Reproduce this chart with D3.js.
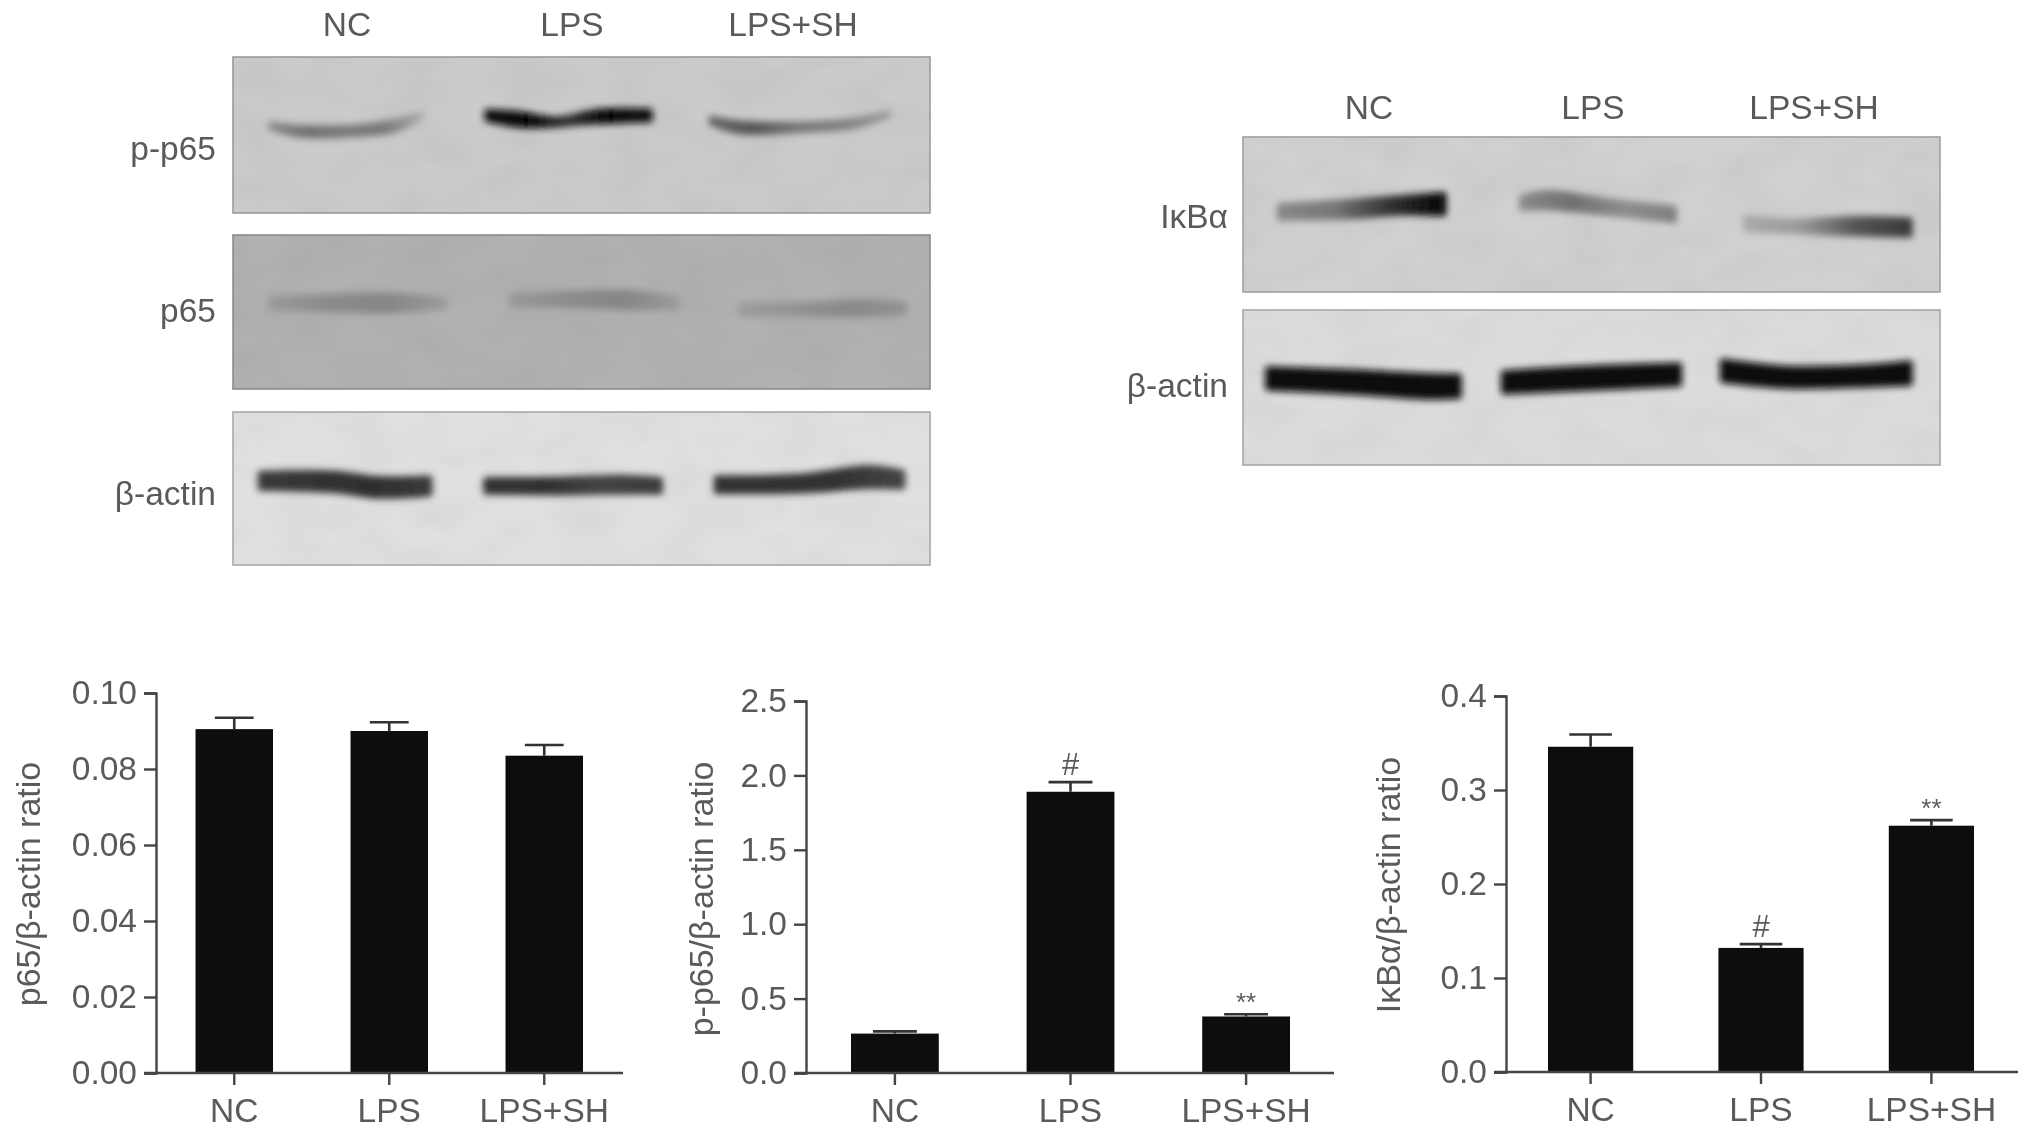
<!DOCTYPE html>
<html><head><meta charset="utf-8">
<style>html,body{margin:0;padding:0;background:#fff}svg{display:block}
text{font-family:"Liberation Sans",Arial,sans-serif;fill:#5a5a5a}</style>
<script src="https://cdnjs.cloudflare.com/ajax/libs/d3/7.8.5/d3.min.js"></script>
</head><body>
<script>
// ---- chart data ----
const categories = ["NC","LPS","LPS+SH"];
const p65Values = [0.0905,0.0900,0.0835];
const p65Upper = [0.0935,0.0923,0.0863];
const p65Ticks = [0,0.02,0.04,0.06,0.08,0.10];
const pp65Values = [0.265,1.89,0.38];
const pp65Upper = [0.28,1.955,0.395];
const pp65Ticks = [0,0.5,1,1.5,2,2.5];
const ikbValues = [0.346,0.132,0.262];
const ikbUpper = [0.359,0.136,0.268];
const ikbTicks = [0,0.1,0.2,0.3,0.4];
const pp65Marks = ["","#","**"];
const ikbMarks = ["","#","**"];
const noMarks = ["","",""];
// ---- blot band traces: [lane position, height in blot, thickness] and tones left to right ----
const bandsPP65 = [
 {t:[[29,53,3],[50,57,6],[90,57,6],[125,53,7],[146,45,2]],c:["#8a8a8a","#707070","#7a7a7a","#787878","#aaa"]},
 {t:[[196,45,6],[220,48,9],[250,50,5],[280,46,8],[322,45,7]],c:["#111","#050505","#333","#050505","#111"]},
 {t:[[369,49,4],[390,54,7],[440,54,5],[480,51,5],[506,44,2]],c:["#666","#555","#777","#808080","#999"]}];
const bandsP65 = [
 {t:[[29,53,8],[70,53,10],[125,53,12],[163,53,6]],c:["#999","#8a8a8a","#858585","#999"]},
 {t:[[215,51,7],[260,50,10],[315,51,12],[343,53,6]],c:["#999","#8c8c8c","#858585","#999"]},
 {t:[[392,58,7],[440,58,8],[490,57,10],[518,57,7]],c:["#9c9c9c","#939393","#888","#929292"]}];
const bandsActinA = [
 {t:[[21,54,12],[80,55,14],[110,59,14],[152,58,13]],c:["#3a3a3a","#333","#2e2e2e","#3a3a3a"]},
 {t:[[195,58,10],[250,58,11],[300,57,12],[330,58,10]],c:["#333","#2f2f2f","#444","#3a3a3a"]},
 {t:[[373,57,11],[440,56,12],[490,51,15],[517,53,12]],c:["#333","#333","#333","#444"]}];
const bandsIkb = [
 {t:[[28,58,10],[80,56,12],[120,53,12],[155,52,15]],c:["#888","#777","#333","#050505"]},
 {t:[[215,51,9],[235,49,12],[280,54,10],[333,60,10]],c:["#8a8a8a","#707070","#8c8c8c","#808080"]},
 {t:[[388,67,10],[420,69,8],[470,69,12],[515,70,12]],c:["#aaa","#999","#555","#3a3a3a"]}];
const bandsActinB = [
 {t:[[19,53,15],[90,56,16],[140,59,17],[167,59,16]],c:["#0a0a0a","#0a0a0a","#0a0a0a","#0a0a0a"]},
 {t:[[201,56,15],[260,53,16],[337,50,15]],c:["#0a0a0a","#0a0a0a","#0a0a0a"]},
 {t:[[370,47,15],[420,52,14],[480,51,14],[515,49,16]],c:["#0a0a0a","#0a0a0a","#0a0a0a","#0a0a0a"]}];

// ---- layout ----
const W=2031,H=1136;
const svg=d3.select("body").append("svg").attr("width",W).attr("height",H).attr("viewBox",[0,0,W,H]);
const defs=svg.append("defs");
defs.append("filter").attr("id","soft").attr("x","-5%").attr("y","-5%").attr("width","110%").attr("height","110%")
  .append("feGaussianBlur").attr("stdDeviation",0.7);
const bf=defs.append("filter").attr("id","bandblur").attr("x","-15%").attr("y","-80%").attr("width","130%").attr("height","260%");
bf.append("feGaussianBlur").attr("stdDeviation",3.6);
const tex=defs.append("filter").attr("id","mottle").attr("x","0").attr("y","0").attr("width","100%").attr("height","100%");
tex.append("feTurbulence").attr("type","fractalNoise").attr("baseFrequency","0.018 0.03").attr("numOctaves",2).attr("seed",4);
tex.append("feColorMatrix").attr("type","matrix").attr("values","0 0 0 0 0  0 0 0 0 0  0 0 0 0 0  0 0 0 1.1 -0.35");

const root=svg.append("g").attr("filter","url(#soft)");
let gid=0;

function blot(x,y,w,h,bg,stroke,bands){
  const sx=d3.scaleLinear().domain([0,538]).range([x,x+w]);
  const sy=d3.scaleLinear().domain([0,120]).range([y,y+h]);
  const g=root.append("g");
  g.append("rect").attr("x",x).attr("y",y).attr("width",w).attr("height",h).attr("fill",bg);
  g.append("rect").attr("x",x).attr("y",y).attr("width",w).attr("height",h).attr("fill","#000").attr("opacity",0.045).attr("filter","url(#mottle)");
  const area=d3.area().curve(d3.curveCatmullRom)
    .x(d=>sx(d[0])).y0(d=>sy(d[1]-d[2]/2)).y1(d=>sy(d[1]+d[2]/2));
  const clipId="clip"+(gid++);
  defs.append("clipPath").attr("id",clipId).append("rect").attr("x",x).attr("y",y).attr("width",w).attr("height",h);
  const inner=g.append("g").attr("clip-path",`url(#${clipId})`);
  bands.forEach(b=>{
    const id="grad"+(gid++);
    const lg=defs.append("linearGradient").attr("id",id);
    b.c.forEach((c,i)=>lg.append("stop").attr("offset",i/(b.c.length-1)).attr("stop-color",c));
    inner.append("path").datum(b.t).attr("d",area).attr("fill",`url(#${id})`)
      .attr("stroke",`url(#${id})`).attr("stroke-width",5).attr("stroke-linejoin","round")
      .attr("filter","url(#bandblur)");
  });
  g.append("rect").attr("x",x).attr("y",y).attr("width",w).attr("height",h).attr("fill","none").attr("stroke",stroke).attr("stroke-width",1.6);
}
function label(t,x,y,anchor){
  root.append("text").attr("x",x).attr("y",y).attr("text-anchor",anchor||"middle").attr("dy","0.35em").attr("font-size",33.5).text(t);
}

blot(233,57,697,156,"#cbcbcb","#9a9a9a",bandsPP65);
blot(233,235,697,154,"#b1b1b1","#8c8c8c",bandsP65);
blot(233,412,697,153,"#e0e0e0","#a8a8a8",bandsActinA);
blot(1243,137,697,155,"#d0d0d0","#a0a0a0",bandsIkb);
blot(1243,310,697,155,"#dcdcdc","#a8a8a8",bandsActinB);

[[347,"NC"],[572,"LPS"],[793,"LPS+SH"]].forEach(d=>label(d[1],d[0],24));
[[1369,"NC"],[1593,"LPS"],[1814,"LPS+SH"]].forEach(d=>label(d[1],d[0],107));
label("p-p65",216,148,"end");label("p65",216,310,"end");label("β-actin",216,493,"end");
label("IκBα",1228,216,"end");label("β-actin",1228,385,"end");

function barChart(o){
  const x=d3.scaleBand().domain(categories).range([o.barL,o.barR]).paddingInner(0.5);
  const y=d3.scaleLinear().domain([0,o.max]).range([o.y0,o.yT]);
  const g=root.append("g");
  g.selectAll("rect.bar").data(o.values).join("rect").attr("class","bar")
    .attr("x",(d,i)=>x(categories[i])).attr("width",x.bandwidth())
    .attr("y",d=>y(d)).attr("height",d=>y(0)-y(d)).attr("fill","#111");
  const cap=x.bandwidth()*0.5;
  const eb=g.selectAll("g.err").data(o.upper).join("g").attr("class","err").attr("stroke","#333").attr("stroke-width",2.6);
  eb.append("line").attr("x1",(d,i)=>x(categories[i])+x.bandwidth()/2).attr("x2",(d,i)=>x(categories[i])+x.bandwidth()/2)
    .attr("y1",(d,i)=>y(o.values[i])).attr("y2",d=>y(d));
  eb.append("line").attr("x1",(d,i)=>x(categories[i])+x.bandwidth()/2-cap/2).attr("x2",(d,i)=>x(categories[i])+x.bandwidth()/2+cap/2)
    .attr("y1",d=>y(d)).attr("y2",d=>y(d));
  const ya=g.append("g").attr("transform",`translate(${o.axisX},0)`)
    .call(d3.axisLeft(y).tickValues(o.ticks).tickSizeOuter(0).tickSize(12).tickPadding(7).tickFormat(d3.format(o.fmt)));
  const xa=g.append("g").attr("transform",`translate(0,${o.y0})`)
    .call(d3.axisBottom(x).tickSizeOuter(0).tickSize(12).tickPadding(13));
  xa.select(".domain").attr("d",`M${o.axisX-12},0H${o.xEnd}`);
  g.selectAll(".domain,.tick line").attr("stroke","#444").attr("stroke-width",2.4);
  g.selectAll(".tick text").attr("font-size",33.5).attr("font-family",null).attr("fill","#5a5a5a");
  g.selectAll("text.mark").data(o.marks).join("text").attr("class","mark")
    .attr("x",(d,i)=>x(categories[i])+x.bandwidth()/2)
    .attr("y",(d,i)=>y(o.upper[i])-(d==="#"?7:3))
    .attr("text-anchor","middle").attr("font-size",d=>d==="#"?31:26).text(d=>d);
  root.append("text").attr("transform",`translate(${o.titleX},${o.titleY}) rotate(-90)`)
    .attr("text-anchor","middle").attr("dy","0.35em").attr("font-size",34).text(o.title);
}
barChart({values:p65Values,upper:p65Upper,ticks:p65Ticks,marks:noMarks,max:0.1,fmt:".2f",axisX:156,y0:1073,yT:693,xEnd:623,barL:195.5,barR:583,titleX:28,titleY:884,title:"p65/β-actin ratio"});
barChart({values:pp65Values,upper:pp65Upper,ticks:pp65Ticks,marks:pp65Marks,max:2.5,fmt:".1f",axisX:806,y0:1073,yT:701,xEnd:1334,barL:851,barR:1290,titleX:701,titleY:899,title:"p-p65/β-actin ratio"});
barChart({values:ikbValues,upper:ikbUpper,ticks:ikbTicks,marks:ikbMarks,max:0.4,fmt:".1f",axisX:1506,y0:1072,yT:696,xEnd:2018,barL:1548,barR:1974,titleX:1388,titleY:885,title:"IκBα/β-actin ratio"});
</script>
</body></html>
